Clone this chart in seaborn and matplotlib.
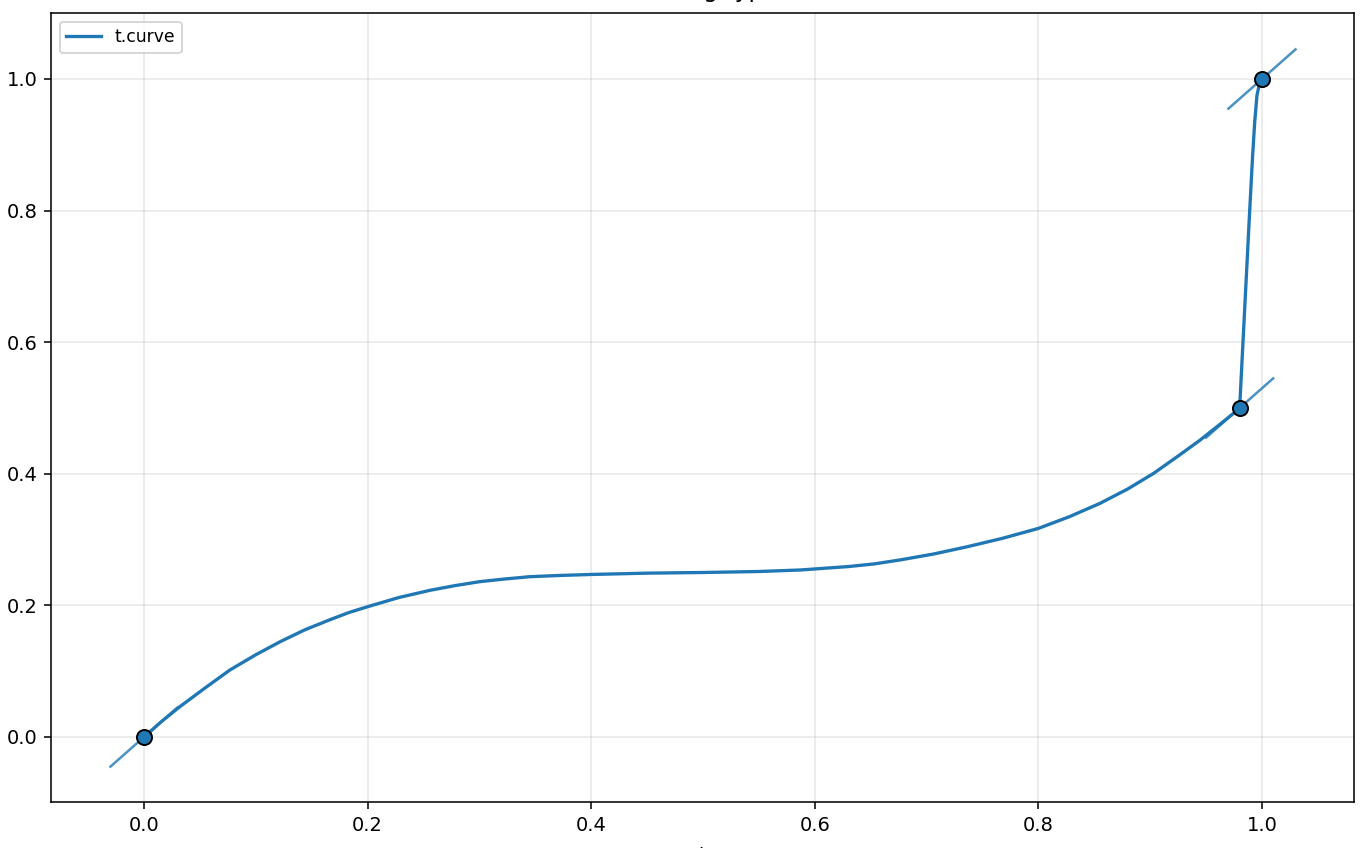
import matplotlib
matplotlib.use("Agg")
import matplotlib.pyplot as plt
import seaborn as sns
import pandas as pd

# Curve samples
curve_x = [0.0, 0.016, 0.032, 0.055, 0.077, 0.100, 0.122, 0.144, 0.166, 0.183, 0.200,
           0.228, 0.256, 0.278, 0.300, 0.322, 0.345, 0.372, 0.400, 0.450,
           0.500, 0.550, 0.587, 0.630, 0.653, 0.676, 0.706, 0.736, 0.768, 0.800,
           0.828, 0.855, 0.880, 0.903, 0.925, 0.9445, 0.963, 0.980,
           0.9815, 0.983, 0.986, 0.989, 0.9915, 0.9935, 0.9955, 0.998, 1.0]
curve_y = [0.0, 0.024, 0.046, 0.075, 0.102, 0.125, 0.145, 0.163, 0.178, 0.189, 0.198,
           0.212, 0.223, 0.230, 0.236, 0.240, 0.2436, 0.2455, 0.247, 0.249,
           0.250, 0.2515, 0.2538, 0.259, 0.263, 0.269, 0.278, 0.289, 0.302, 0.317,
           0.335, 0.355, 0.377, 0.4006, 0.427, 0.451, 0.476, 0.4995,
           0.55, 0.60, 0.70, 0.80, 0.88, 0.935, 0.975, 0.995, 1.0]

# Key points and their tangent handles
key_x = [0.0, 0.98, 1.0]
key_y = [0.0, 0.5, 1.0]
tan_slope = [1.5, 1.5, 1.5]
tan_half = [0.03, 0.03, 0.03]

plt.rcParams['font.family'] = ['DejaVu Sans']

DPI = 140
fig = plt.figure(figsize=(1366/DPI, 848/DPI), dpi=DPI)
ax = fig.add_axes([51/1366, 1-802/848, (1354-51)/1366, (802-13)/848])

blue = "#1f77b4"
df = pd.DataFrame({"x": curve_x, "y": curve_y})
sns.lineplot(data=df, x="x", y="y", ax=ax, color=blue, lw=1.7, label="t.curve",
             sort=False, estimator=None)

for kx, ky, s, h in zip(key_x, key_y, tan_slope, tan_half):
    ax.plot([kx - h, kx + h], [ky - s*h, ky + s*h], color=blue, alpha=0.8, lw=1.3)

ax.scatter(key_x, key_y, s=60, color=blue, edgecolor="black", linewidth=1.0, zorder=5)

ax.set_xlim(-0.0832, 1.0823)
ax.set_ylim(-0.0988, 1.1003)
ax.set_xticks([0.0, 0.2, 0.4, 0.6, 0.8, 1.0])
ax.set_yticks([0.0, 0.2, 0.4, 0.6, 0.8, 1.0])
ax.grid(True, alpha=0.3)
ax.set_axisbelow(True)
ax.set_xlabel("")
ax.set_ylabel("")

leg = ax.legend(loc="upper left", fontsize=8.8)

fig.text(702/1366, 1.003, "easing typ", ha="center", va="baseline", fontsize=12)
fig.text(702/1366, 2/848, "t", ha="center", va="top", fontsize=10)

fig.savefig("out.png", dpi=DPI)
